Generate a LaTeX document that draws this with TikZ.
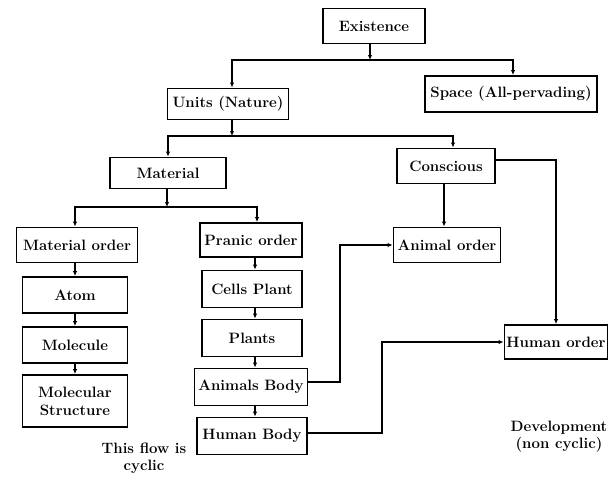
\documentclass[tikz,border=0pt]{standalone}
\usetikzlibrary{arrows.meta}
\begin{document}
\begin{tikzpicture}[x=1pt,y=-1pt,
  box/.style={draw,line width=1.9pt,inner sep=0pt,align=center,font=\fontsize{15}{18}\selectfont\bfseries},
  lbl/.style={inner sep=0pt,align=center,font=\fontsize{15}{17}\selectfont\bfseries},
  arr/.style={line width=1.7pt,-{Latex[length=5pt,width=4.5pt]}}]
\useasboundingbox (0,0) rectangle (609,477);
% boxes
\node[box,minimum width=102pt,minimum height=35pt] (ex) at (374,26) {Existence};
\node[box,minimum width=121pt,minimum height=31pt] (units) at (228,104) {Units (Nature)};
\node[box,minimum width=172pt,minimum height=36pt] (space) at (511,94) {Space (All-pervading)};
\node[box,minimum width=116pt,minimum height=31pt] (material) at (168,173) {Material};
\node[box,minimum width=98pt,minimum height=35pt] (conscious) at (446,166) {Conscious};
\node[box,minimum width=121pt,minimum height=35pt] (matorder) at (77,245) {Material order};
\node[box,minimum width=102pt,minimum height=34pt] (pranic) at (251,240) {Pranic order};
\node[box,minimum width=107pt,minimum height=35pt] (animalorder) at (447,245) {Animal order};
\node[box,minimum width=103pt,minimum height=34pt] (humanorder) at (556,342) {Human order};
\node[box,minimum width=105pt,minimum height=36pt] (atom) at (75,295) {Atom};
\node[box,minimum width=105pt,minimum height=36pt] (molecule) at (75,345) {Molecule};
\node[box,minimum width=105pt,minimum height=52pt] (molstruct) at (75,401) {Molecular\\Structure};
\node[box,minimum width=100pt,minimum height=37pt] (cells) at (252,289) {Cells Plant};
\node[box,minimum width=100pt,minimum height=37pt] (plants) at (252,338) {Plants};
\node[box,minimum width=113pt,minimum height=37pt] (animalsbody) at (251,387) {Animals Body};
\node[box,minimum width=110pt,minimum height=37pt] (humanbody) at (252,436) {Human Body};
% labels
\node[lbl] (cyc) at (144,458) {This flow is\\cyclic};
\node[lbl] (dev) at (559,437) {Development\\(non cyclic)};
% junctions
\coordinate (j1) at (370,60);
\coordinate (j2) at (232,136);
\coordinate (j3) at (167,207);
\coordinate (k1) at (340,245);
\coordinate (k2) at (382,342);
% connectors
\draw[arr] (ex.south -| j1) -- (j1);
\draw[arr] (j1) -| ([xshift=4pt]units.north);
\draw[arr] (j1) -| ([xshift=2pt]space.north);
\draw[arr] (units.south -| j2) -- (j2);
\draw[arr] (j2) -| (material.north);
\draw[arr] (j2) -| ([xshift=7pt]conscious.north);
\draw[arr] (material.south -| j3) -- (j3);
\draw[arr] (j3) -| ([xshift=-2pt]matorder.north);
\draw[arr] (j3) -| ([xshift=6pt]pranic.north);
\draw[arr] ([xshift=-2pt]conscious.south) -- ([xshift=-3pt]animalorder.north);
\draw[arr] ([yshift=6pt]conscious.east) -| (humanorder.north);
\draw[arr] ([xshift=-2pt]matorder.south) -- (atom.north);
\draw[arr] (atom.south) -- (molecule.north);
\draw[arr] (molecule.south) -- (molstruct.north);
\draw[arr] ([xshift=4pt]pranic.south) -- ([xshift=3pt]cells.north);
\draw[arr] ([xshift=3pt]cells.south) -- ([xshift=3pt]plants.north);
\draw[arr] ([xshift=3pt]plants.south) -- ([xshift=4pt]animalsbody.north);
\draw[arr] ([xshift=4pt]animalsbody.south) -- ([xshift=3pt]humanbody.north);
\draw[arr] ([yshift=5pt]animalsbody.east) -| (k1) -- (animalorder.west);
\draw[arr] ([yshift=3pt]humanbody.east) -| (k2) -- (humanorder.west);
\end{tikzpicture}
\end{document}
